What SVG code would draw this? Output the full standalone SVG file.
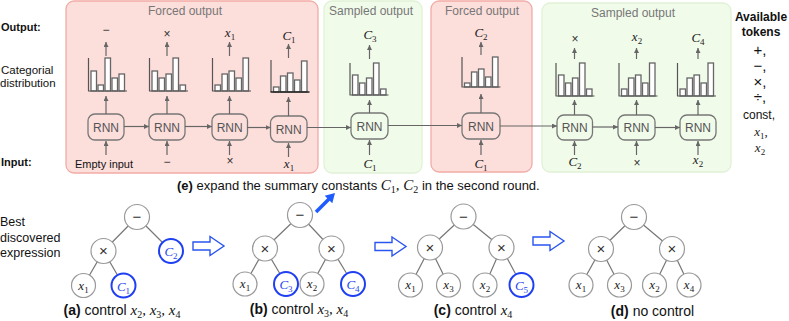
<svg xmlns="http://www.w3.org/2000/svg" width="789" height="321" viewBox="0 0 789 321">
<defs>
<marker id="ah" markerUnits="userSpaceOnUse" markerWidth="6" markerHeight="6" refX="5" refY="2.5" orient="auto">
<path d="M0,0 L5,2.5 L0,5 z" fill="#666"/>
</marker>
<style>
.pF{fill:#fcdedb;stroke:#f2aca7;stroke-width:1.3}
.pS{fill:#f1fbea;stroke:#e0f1d5;stroke-width:1.3}
.pt{font-family:"Liberation Sans",Arial,sans-serif;font-size:12px;fill:#777;text-anchor:middle}
.rnn rect{fill:none;stroke:#777;stroke-width:1.3}
.rnn text{font-family:"Liberation Sans",Arial,sans-serif;font-size:12px;fill:#555;text-anchor:middle}
.bar{fill:#fff;stroke:#666;stroke-width:1.3}
.ax{stroke:#555;stroke-width:1.2;fill:none}
.arr{stroke:#666;stroke-width:1.2;fill:none;marker-end:url(#ah)}
.lab{font-family:"Liberation Sans",Arial,sans-serif;fill:#111}
.b{font-weight:bold}
.m{font-family:"Liberation Serif","Times New Roman",serif;font-style:italic;font-size:13px;fill:#222;text-anchor:middle}
.s{font-style:normal;font-size:9px}
.op{font-family:"Liberation Sans",Arial,sans-serif;font-size:12px;fill:#333;text-anchor:middle}
.tn circle{fill:#fff;stroke:#999;stroke-width:1.2}
.tn .op{font-size:15px}
.tb circle{fill:#fff;stroke:#1f3ff2;stroke-width:2}
.tb text{fill:#2747f0}
.edge{stroke:#777;stroke-width:1.2}
.blk{fill:#fff;stroke:#2a55f0;stroke-width:1.4}
.cap{font-family:"Liberation Sans",Arial,sans-serif;font-size:14px;fill:#111;text-anchor:middle}
.cape{font-family:"Liberation Sans",Arial,sans-serif;font-size:13px;fill:#111;text-anchor:start}
.cm{font-family:"Liberation Serif","Times New Roman",serif;font-style:italic;font-size:15px}
.cs{font-style:normal;font-size:10px}
.tok{font-family:"Liberation Sans",Arial,sans-serif;fill:#111;text-anchor:middle;font-size:15px}
</style>
</defs>
<rect width="789" height="321" fill="#fff"/>

<g id="panels">
<rect class="pF" x="66" y="1" width="252" height="172" rx="8"/>
<rect class="pS" x="324" y="1" width="98" height="172" rx="8"/>
<rect class="pF" x="431" y="1" width="101" height="171" rx="8"/>
<rect class="pS" x="542" y="3" width="189" height="169" rx="8"/>
<text class="pt" x="185" y="15">Forced output</text>
<text class="pt" x="371" y="15">Sampled output</text>
<text class="pt" x="482" y="15">Forced output</text>
<text class="pt" x="633" y="17">Sampled output</text>
</g>

<g id="row-labels">
<text class="lab b" x="1" y="31" font-size="11">Output:</text>
<text class="lab" x="1" y="74" font-size="11.5">Categorial</text>
<text class="lab" x="0" y="87" font-size="11.5">distribution</text>
<text class="lab b" x="1" y="166" font-size="11">Input:</text>
<text class="lab b" x="761" y="21" font-size="12" text-anchor="middle">Available</text>
<text class="lab b" x="761" y="36" font-size="12" text-anchor="middle">tokens</text>
<text class="tok" x="760" y="55">+,</text>
<text class="tok" x="760" y="71">−,</text>
<text class="tok" x="760" y="86.5">×,</text>
<text class="tok" x="760" y="102">÷,</text>
<text class="lab" x="759" y="119" font-size="12" text-anchor="middle">const,</text>
<text class="m" x="761" y="136" font-size="14" fill="#111">x<tspan class="s" dy="3">1</tspan><tspan dy="-3" font-style="normal">,</tspan></text>
<text class="m" x="760" y="152" font-size="14" fill="#111">x<tspan class="s" dy="3">2</tspan></text>
<text class="lab" x="0" y="225.5" font-size="12.5">Best</text>
<text class="lab" x="0" y="241.5" font-size="12.5">discovered</text>
<text class="lab" x="0" y="256.5" font-size="12.5">expression</text>
</g>

<g id="rnn1" class="rnn"><rect x="88" y="114" width="36" height="26" rx="7"/><text x="106" y="131.5">RNN</text></g>
<g id="rnn2" class="rnn"><rect x="149" y="114" width="36" height="26" rx="7"/><text x="167" y="131.5">RNN</text></g>
<g id="rnn3" class="rnn"><rect x="212" y="114" width="35.5" height="26" rx="7"/><text x="229.7" y="131.5">RNN</text></g>
<g id="rnn4" class="rnn"><rect x="270.5" y="116" width="36.5" height="26" rx="7"/><text x="288.7" y="133.5">RNN</text></g>
<g id="rnn5" class="rnn"><rect x="351" y="113" width="37" height="26" rx="7"/><text x="369.5" y="130.5">RNN</text></g>
<g id="rnn6" class="rnn"><rect x="462" y="113" width="38" height="26" rx="7"/><text x="481" y="130.5">RNN</text></g>
<g id="rnn7" class="rnn"><rect x="557" y="115" width="35.5" height="25" rx="7"/><text x="574.7" y="132">RNN</text></g>
<g id="rnn8" class="rnn"><rect x="618" y="115" width="37" height="25" rx="7"/><text x="636.5" y="132">RNN</text></g>
<g id="rnn9" class="rnn"><rect x="680" y="115" width="36" height="25" rx="7"/><text x="698" y="132">RNN</text></g>

<g id="hist1">
<rect class="bar" x="91" y="71" width="5.5" height="20"/><rect class="bar" x="98" y="85" width="5.5" height="6"/><rect class="bar" x="105" y="58" width="5.5" height="33"/><rect class="bar" x="112" y="78" width="5.5" height="13"/><rect class="bar" x="119" y="74" width="5.5" height="17"/>
<path class="ax" d="M88.5,58 V91 M88,91 H127"/>
</g>
<g id="hist2">
<rect class="bar" x="152" y="71" width="5.5" height="20"/><rect class="bar" x="159" y="78" width="5.5" height="13"/><rect class="bar" x="166" y="74" width="5.5" height="17"/><rect class="bar" x="173" y="58" width="5.5" height="33"/><rect class="bar" x="180" y="85" width="5.5" height="6"/>
<path class="ax" d="M149.5,58 V91 M149,91 H188"/>
</g>
<g id="hist3">
<rect class="bar" x="215" y="85" width="5.5" height="6"/><rect class="bar" x="222" y="74" width="5.5" height="17"/><rect class="bar" x="229" y="71" width="5.5" height="20"/><rect class="bar" x="236" y="78" width="5.5" height="13"/><rect class="bar" x="243" y="58" width="5.5" height="33"/>
<path class="ax" d="M212.5,58 V91 M212,91 H251"/>
</g>
<g id="hist4">
<rect class="bar" x="273.5" y="87" width="5.5" height="5"/><rect class="bar" x="280.5" y="76" width="5.5" height="16"/><rect class="bar" x="287.5" y="73" width="5.5" height="19"/><rect class="bar" x="294.5" y="80" width="5.5" height="12"/><rect class="bar" x="301.5" y="61" width="5.5" height="31"/>
<path class="ax" d="M271,60 V92" /><path d="M270.5,92 H309.5" stroke="#222" stroke-width="1.3"/>
</g>
<g id="hist5">
<rect class="bar" x="352.5" y="75" width="5.5" height="20"/><rect class="bar" x="359.5" y="83" width="5.5" height="12"/><rect class="bar" x="366.5" y="78" width="5.5" height="17"/><rect class="bar" x="373.5" y="63" width="5.5" height="32"/><rect class="bar" x="380.5" y="89" width="5.5" height="6"/>
<path class="ax" d="M350,63 V95 M349.5,95 H388.5"/>
</g>
<g id="hist6">
<rect class="bar" x="464.5" y="83" width="5.5" height="4"/><rect class="bar" x="471.5" y="72" width="5.5" height="15"/><rect class="bar" x="478.5" y="69" width="5.5" height="18"/><rect class="bar" x="485.5" y="77" width="5.5" height="10"/><rect class="bar" x="492.5" y="57" width="5.5" height="30"/>
<path class="ax" d="M462,57 V87 M461.5,87 H500.5"/>
</g>
<g id="hist7">
<rect class="bar" x="558.5" y="75" width="5.5" height="21"/><rect class="bar" x="565.5" y="83" width="5.5" height="13"/><rect class="bar" x="572.5" y="78" width="5.5" height="18"/><rect class="bar" x="579.5" y="63" width="5.5" height="33"/><rect class="bar" x="586.5" y="89" width="5.5" height="7"/>
<path class="ax" d="M556,63 V96 M555.5,96 H594.5"/>
</g>
<g id="hist8">
<rect class="bar" x="621.5" y="89" width="5.5" height="7"/><rect class="bar" x="628.5" y="78" width="5.5" height="18"/><rect class="bar" x="635.5" y="75" width="5.5" height="21"/><rect class="bar" x="642.5" y="83" width="5.5" height="13"/><rect class="bar" x="649.5" y="63" width="5.5" height="33"/>
<path class="ax" d="M619,63 V96 M618.5,96 H657.5"/>
</g>
<g id="hist9">
<rect class="bar" x="680" y="89" width="5.5" height="7"/><rect class="bar" x="687" y="78" width="5.5" height="18"/><rect class="bar" x="694" y="75" width="5.5" height="21"/><rect class="bar" x="701" y="83" width="5.5" height="13"/><rect class="bar" x="708" y="63" width="5.5" height="33"/>
<path class="ax" d="M677.5,63 V96 M677,96 H716"/>
</g>

<g id="outputs">
<text class="op" x="106" y="34" font-size="13">−</text>
<text class="op" x="167" y="38" font-size="13">×</text>
<text class="m" x="230" y="37">x<tspan class="s" dy="3">1</tspan></text>
<text class="m" x="289" y="40">C<tspan class="s" dy="3">1</tspan></text>
<text class="m" x="370" y="39">C<tspan class="s" dy="3">3</tspan></text>
<text class="m" x="481" y="37">C<tspan class="s" dy="3">2</tspan></text>
<text class="op" x="575" y="43" font-size="13">×</text>
<text class="m" x="637" y="41">x<tspan class="s" dy="3">2</tspan></text>
<text class="m" x="698" y="42">C<tspan class="s" dy="3">4</tspan></text>
</g>

<g id="inputs">
<text class="lab" x="104" y="168" font-size="11" text-anchor="middle" fill="#222">Empty input</text>
<text class="op" x="167" y="166" font-size="13">−</text>
<text class="op" x="230" y="164.5" font-size="13">×</text>
<text class="m" x="289" y="168">x<tspan class="s" dy="3">1</tspan></text>
<text class="m" x="370" y="168">C<tspan class="s" dy="3">1</tspan></text>
<text class="m" x="481" y="168">C<tspan class="s" dy="3">1</tspan></text>
<text class="m" x="575" y="166">C<tspan class="s" dy="3">2</tspan></text>
<text class="op" x="637" y="166.5" font-size="13">×</text>
<text class="m" x="698" y="164">x<tspan class="s" dy="3">2</tspan></text>
</g>

<g id="connectors">
<path class="arr" d="M124,126.5 H149"/>
<path class="arr" d="M185,126.5 H212"/>
<path class="arr" d="M247,127.5 H270.5"/>
<path class="arr" d="M307,127.5 H351"/>
<path class="arr" d="M388,125.5 H462"/>
<path class="arr" d="M500,126 H557"/>
<path class="arr" d="M592.5,127 H618"/>
<path class="arr" d="M655,127.5 H680"/>

<path class="arr" d="M106,114 V96"/>
<path class="arr" d="M167,114 V96"/>
<path class="arr" d="M229.5,114 V96"/>
<path class="arr" d="M288.5,116 V97"/>
<path class="arr" d="M369.5,113 V100"/>
<path class="arr" d="M481,113 V94"/>
<path class="arr" d="M574.5,115 V100"/>
<path class="arr" d="M636.5,115 V100"/>
<path class="arr" d="M698,115 V100"/>

<path class="arr" d="M106,56 V42"/>
<path class="arr" d="M167,56 V42"/>
<path class="arr" d="M229.5,56 V42"/>
<path class="arr" d="M288.5,58 V44"/>
<path class="arr" d="M369.5,59 V45"/>
<path class="arr" d="M481,55 V42"/>
<path class="arr" d="M574.5,59 V48"/>
<path class="arr" d="M636.5,59 V48"/>
<path class="arr" d="M698,59 V48"/>

<path class="arr" d="M106,155 V141"/>
<path class="arr" d="M167,155 V141"/>
<path class="arr" d="M229.5,155 V141"/>
<path class="arr" d="M288.5,157 V143"/>
<path class="arr" d="M369.5,155 V140"/>
<path class="arr" d="M481,155 V140"/>
<path class="arr" d="M574.5,155 V141"/>
<path class="arr" d="M636.5,155 V141"/>
<path class="arr" d="M698,155 V141"/>

<path class="edge" d="M137,217 L103.5,251 M137,217 L171,251 M103.5,251 L83.5,285.5 M103.5,251 L123.5,285.5"/>
<path class="edge" d="M300,215 L265,248.5 M300,215 L331.5,248.5 M265,248.5 L245,284 M265,248.5 L286,284 M331.5,248.5 L312,284 M331.5,248.5 L353,284"/>
<path class="edge" d="M463.5,216.5 L430,247.5 M463.5,216.5 L501.5,247.5 M430,247.5 L410.5,285 M430,247.5 L448.5,285 M501.5,247.5 L485,285 M501.5,247.5 L521.5,285"/>
<path class="edge" d="M634,217 L601,249 M634,217 L672,249 M601,249 L581,285 M601,249 L619.5,285 M672,249 L654.5,285 M672,249 L689,285"/>

<path class="blk" d="M193,242 H210 V236.5 L224,246 L210,255.5 V250 H193 Z"/>
<path class="blk" d="M375,242.5 H392 V237 L406,246.5 L392,256 V250.5 H375 Z"/>
<path class="blk" d="M533,237 H550 V231.5 L564,241 L550,250.5 V245 H533 Z"/>

<path d="M316,212 L329.5,198.5" stroke="#1f5cff" stroke-width="3.5"/>
<path d="M335,193 L332.3,203.3 L324.7,195.7 Z" fill="#1f5cff"/>
</g>

<g id="tree-a">
<g id="a-root" class="tn"><circle cx="137" cy="217" r="12.5"/><text class="op" x="137" y="222">−</text></g>
<g id="a-mul" class="tn"><circle cx="103.5" cy="251" r="12.5"/><text class="op" x="103.5" y="256">×</text></g>
<g id="a-c2" class="tb"><circle cx="171" cy="251" r="12"/><text class="m" x="171" y="256" font-size="14">C<tspan class="s" dy="3">2</tspan></text></g>
<g id="a-x1" class="tn"><circle cx="83.5" cy="285.5" r="12"/><text class="m" x="83.5" y="289.5">x<tspan class="s" dy="3">1</tspan></text></g>
<g id="a-c1" class="tb"><circle cx="123.5" cy="285.5" r="12"/><text class="m" x="123.5" y="290.5" font-size="14">C<tspan class="s" dy="3">1</tspan></text></g>
</g>

<g id="tree-b">
<g id="b-root" class="tn"><circle cx="300" cy="215" r="12.5"/><text class="op" x="300" y="220">−</text></g>
<g id="b-mul1" class="tn"><circle cx="265" cy="248.5" r="12.5"/><text class="op" x="265" y="253.5">×</text></g>
<g id="b-mul2" class="tn"><circle cx="331.5" cy="248.5" r="12.5"/><text class="op" x="331.5" y="253.5">×</text></g>
<g id="b-x1" class="tn"><circle cx="245" cy="284" r="12"/><text class="m" x="245" y="288">x<tspan class="s" dy="3">1</tspan></text></g>
<g id="b-c3" class="tb"><circle cx="286" cy="284" r="12"/><text class="m" x="286" y="289" font-size="14">C<tspan class="s" dy="3">3</tspan></text></g>
<g id="b-x2" class="tn"><circle cx="312" cy="284" r="12"/><text class="m" x="312" y="288">x<tspan class="s" dy="3">2</tspan></text></g>
<g id="b-c4" class="tb"><circle cx="353" cy="284" r="12"/><text class="m" x="353" y="289" font-size="14">C<tspan class="s" dy="3">4</tspan></text></g>
</g>

<g id="tree-c">
<g id="c-root" class="tn"><circle cx="463.5" cy="216.5" r="12.5"/><text class="op" x="463.5" y="221.5">−</text></g>
<g id="c-mul1" class="tn"><circle cx="430" cy="247.5" r="12.5"/><text class="op" x="430" y="252.5">×</text></g>
<g id="c-mul2" class="tn"><circle cx="501.5" cy="247.5" r="12.5"/><text class="op" x="501.5" y="252.5">×</text></g>
<g id="c-x1" class="tn"><circle cx="410.5" cy="285" r="12"/><text class="m" x="410.5" y="289">x<tspan class="s" dy="3">1</tspan></text></g>
<g id="c-x3" class="tn"><circle cx="448.5" cy="285" r="12"/><text class="m" x="448.5" y="289">x<tspan class="s" dy="3">3</tspan></text></g>
<g id="c-x2" class="tn"><circle cx="485" cy="285" r="12"/><text class="m" x="485" y="289">x<tspan class="s" dy="3">2</tspan></text></g>
<g id="c-c5" class="tb"><circle cx="521.5" cy="285" r="12"/><text class="m" x="521.5" y="290" font-size="14">C<tspan class="s" dy="3">5</tspan></text></g>
</g>

<g id="tree-d">
<g id="d-root" class="tn"><circle cx="634" cy="217" r="12.5"/><text class="op" x="634" y="222">−</text></g>
<g id="d-mul1" class="tn"><circle cx="601" cy="249" r="12.5"/><text class="op" x="601" y="254">×</text></g>
<g id="d-mul2" class="tn"><circle cx="672" cy="249" r="12.5"/><text class="op" x="672" y="254">×</text></g>
<g id="d-x1" class="tn"><circle cx="581" cy="285" r="12"/><text class="m" x="581" y="289">x<tspan class="s" dy="3">1</tspan></text></g>
<g id="d-x3" class="tn"><circle cx="619.5" cy="285" r="12"/><text class="m" x="619.5" y="289">x<tspan class="s" dy="3">3</tspan></text></g>
<g id="d-x2" class="tn"><circle cx="654.5" cy="285" r="12"/><text class="m" x="654.5" y="289">x<tspan class="s" dy="3">2</tspan></text></g>
<g id="d-x4" class="tn"><circle cx="689" cy="285" r="12"/><text class="m" x="689" y="289">x<tspan class="s" dy="3">4</tspan></text></g>
</g>

<g id="captions">
<text class="cap" x="122" y="315"><tspan class="b">(a)</tspan> control <tspan class="cm">x<tspan class="cs" dy="3">2</tspan><tspan dy="-3">, x</tspan><tspan class="cs" dy="3">3</tspan><tspan dy="-3">, x</tspan><tspan class="cs" dy="3">4</tspan></tspan></text>
<text class="cap" x="299" y="314"><tspan class="b">(b)</tspan> control <tspan class="cm">x<tspan class="cs" dy="3">3</tspan><tspan dy="-3">, x</tspan><tspan class="cs" dy="3">4</tspan></tspan></text>
<text class="cap" x="473" y="315"><tspan class="b">(c)</tspan> control <tspan class="cm">x<tspan class="cs" dy="3">4</tspan></tspan></text>
<text class="cap" x="652.5" y="316"><tspan class="b">(d)</tspan> no control</text>
<text class="cape" x="177" y="190"><tspan class="b">(e)</tspan> expand the summary constants <tspan class="cm" font-size="14">C<tspan class="cs" font-size="9" dy="3">1</tspan><tspan dy="-3">, C</tspan><tspan class="cs" font-size="9" dy="3">2</tspan></tspan><tspan dy="-3"> in the second round.</tspan></text>
</g>
</svg>
